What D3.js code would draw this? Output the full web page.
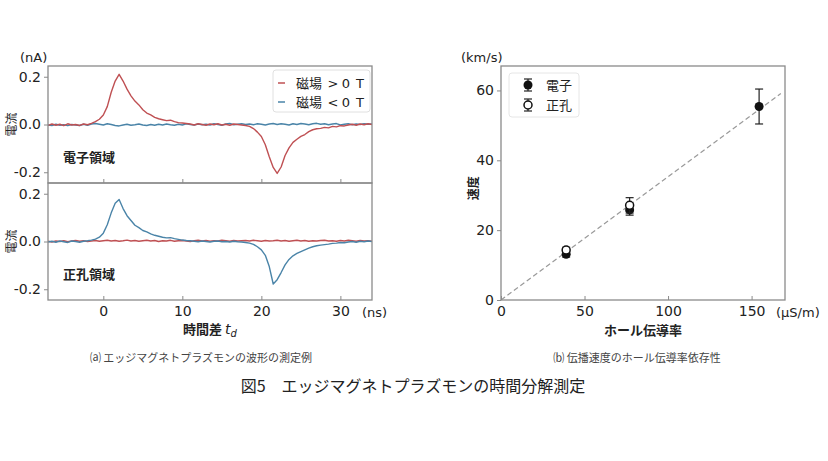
<!DOCTYPE html>
<html>
<head>
<meta charset="utf-8">
<script src="https://cdn.jsdelivr.net/npm/d3@7"></script>
<style>
  body { margin: 0; background: #fff; }
  text { font-family: "DejaVu Sans", "Noto Sans CJK JP", sans-serif; }
  .jp { font-family: "Noto Sans CJK JP", sans-serif; }
</style>
</head>
<body>
<div id="chart"></div>
<script>
// sampling times of the waveforms (ns)
const timeNs = [
  -7, -6.5, -6, -5.5, -5, -4.5, -4, -3.5, -3, -2.5,
  -2, -1.5, -1, -0.5, 0, 0.5, 1, 1.5, 2, 2.5,
  3, 3.5, 4, 4.5, 5, 5.5, 6, 6.5, 7, 7.5,
  8, 8.5, 9, 9.5, 10, 10.5, 11, 11.5, 12, 12.5,
  13, 13.5, 14, 14.5, 15, 15.5, 16, 16.5, 17, 17.5,
  18, 18.5, 19, 19.5, 20, 20.5, 21, 21.5, 22, 22.5,
  23, 23.5, 24, 24.5, 25, 25.5, 26, 26.5, 27, 27.5,
  28, 28.5, 29, 29.5, 30, 30.5, 31, 31.5, 32, 32.5,
  33, 33.5, 34
];

// electron region, B > 0 (nA)
const electronPos = [
  -0.004, 0.002, -0.003, 0.001, -0.005, 0.003, -0.002, 0.000, -0.004, 0.002,
  -0.001, 0.005, 0.012, 0.022, 0.040, 0.075, 0.135, 0.182, 0.210, 0.182,
  0.148, 0.120, 0.098, 0.082, 0.062, 0.048, 0.040, 0.030, 0.024, 0.020,
  0.016, 0.018, 0.012, 0.008, 0.006, 0.004, 0.002, -0.002, 0.003, 0.000,
  -0.003, 0.002, -0.001, 0.003, -0.002, 0.001, -0.003, 0.002, 0.000, -0.002,
  -0.004, -0.008, -0.017, -0.032, -0.050, -0.085, -0.135, -0.180, -0.205, -0.178,
  -0.130, -0.098, -0.075, -0.062, -0.050, -0.042, -0.030, -0.022, -0.018, -0.016,
  -0.012, -0.014, -0.008, -0.010, -0.005, -0.006, -0.002, 0.001, -0.003, 0.002,
  -0.001, 0.003, 0.000
];

// electron region, B < 0
const electronNeg = [
  -0.002, -0.004, 0.001, -0.003, -0.001, -0.005, 0.000, -0.002, -0.004, 0.001,
  -0.003, 0.002, 0.004, 0.001, -0.002, 0.003, 0.000, -0.004, -0.006, -0.002,
  0.001, -0.003, -0.001, 0.002, -0.002, -0.004, 0.000, -0.003, 0.001, -0.002,
  0.002, -0.001, -0.003, 0.001, -0.002, 0.003, 0.000, -0.002, 0.002, -0.001,
  0.001, -0.002, 0.003, 0.000, -0.003, 0.002, 0.004, -0.001, 0.001, 0.003,
  0.000, 0.002, -0.001, 0.003, 0.001, -0.002, 0.002, 0.004, 0.000, 0.003,
  0.001, -0.002, 0.003, 0.000, 0.004, 0.002, -0.001, 0.003, 0.005, 0.001,
  0.003, -0.001, 0.002, 0.004, -0.002, 0.001, 0.003, -0.001, 0.002, 0.000,
  0.003, 0.001, 0.002
];

// hole region, B > 0
const holePos = [
  0.001, -0.002, 0.002, 0.000, 0.003, -0.001, 0.002, 0.004, 0.001, 0.003,
  0.000, 0.002, 0.004, 0.001, 0.003, 0.005, 0.002, 0.004, 0.001, 0.003,
  0.006, 0.002, 0.004, 0.001, 0.003, 0.005, 0.002, 0.004, 0.000, 0.003,
  0.002, 0.005, 0.001, 0.003, 0.004, 0.002, 0.000, 0.003, 0.005, 0.002,
  0.004, 0.001, 0.003, 0.002, 0.005, 0.003, 0.001, 0.004, 0.002, 0.003,
  0.004, 0.002, 0.005, 0.003, 0.001, 0.004, 0.002, 0.003, 0.005, 0.002,
  0.004, 0.001, 0.003, 0.005, 0.002, 0.004, 0.001, 0.003, 0.002, 0.004,
  0.005, 0.002, 0.003, 0.001, 0.004, 0.002, 0.005, 0.003, 0.001, 0.004,
  0.002, 0.003, 0.001
];

// hole region, B < 0
const holeNeg = [
  -0.002, 0.001, -0.003, 0.002, -0.001, -0.004, 0.002, 0.000, -0.003, 0.001,
  0.003, 0.006, 0.010, 0.018, 0.035, 0.070, 0.120, 0.160, 0.176, 0.138,
  0.108, 0.088, 0.068, 0.058, 0.046, 0.040, 0.032, 0.026, 0.022, 0.018,
  0.015, 0.016, 0.012, 0.009, 0.006, 0.004, 0.003, 0.001, -0.001, 0.002,
  0.000, -0.002, 0.001, 0.002, -0.001, 0.000, -0.002, 0.001, -0.001, -0.002,
  -0.004, -0.007, -0.012, -0.022, -0.035, -0.058, -0.105, -0.178, -0.160, -0.130,
  -0.098, -0.075, -0.060, -0.050, -0.042, -0.035, -0.028, -0.022, -0.018, -0.015,
  -0.013, -0.011, -0.008, -0.007, -0.004, -0.005, -0.002, 0.000, -0.003, 0.001,
  -0.001, 0.002, 0.000
];

const waveTicksX = [0, 10, 20, 30];
const waveTicksY = [-0.2, 0.0, 0.2];

// panel (b): velocity vs Hall conductivity
const electronSigma = [39, 77, 154.5];
const electronVel = [13.1, 25.8, 55.4];
const electronErr = [0.8, 1.5, 5.0];
const holeSigma = [39, 77];
const holeVel = [14.3, 27.1];
const holeErr = [0.8, 2.2];
const fitLine = [[0, 0], [167.5, 59.1]];
const velTicksX = [0, 50, 100, 150];
const velTicksY = [0, 20, 40, 60];

const red = "#bf5053";
const blue = "#4a84a8";
const frameColor = "#8a8a8a";

const svg = d3.select("#chart").append("svg")
  .attr("width", 828).attr("height", 461)
  .style("background", "#fff");

const xWave = d3.scaleLinear().domain([-7, 34]).range([48, 372]);

function drawWavePanel(y, series, ticksLabelled, regionLabel, id) {
  const g = svg.append("g");
  const [y0, y1] = y.range();

  g.append("clipPath").attr("id", id)
    .append("rect")
    .attr("x", 48).attr("y", y1).attr("width", 324).attr("height", y0 - y1);

  const line = d3.line()
    .x((d, i) => xWave(timeNs[i]))
    .y(d => y(d));

  series.forEach(s => {
    g.append("path")
      .datum(s.values)
      .attr("clip-path", `url(#${id})`)
      .attr("fill", "none")
      .attr("stroke", s.color)
      .attr("stroke-width", 1.4)
      .attr("stroke-linejoin", "round")
      .attr("d", line);
  });

  // y axis, ticks outward
  const yAxis = d3.axisLeft(y).tickValues(waveTicksY).tickSize(4).tickPadding(3)
    .tickFormat(d => d.toFixed(1));
  const ya = g.append("g").attr("transform", "translate(48,0)").call(yAxis);
  ya.select(".domain").remove();
  ya.selectAll("line").attr("stroke", frameColor);
  ya.selectAll("text").attr("font-size", 14).attr("fill", "#222")
    .style("font-family", "DejaVu Sans");

  // x ticks, inward
  const xAxis = d3.axisBottom(xWave).tickValues(waveTicksX).tickSizeInner(-4).tickPadding(6);
  const xa = g.append("g").attr("transform", `translate(0,${y0})`).call(xAxis);
  xa.select(".domain").remove();
  xa.selectAll("line").attr("stroke", frameColor);
  xa.selectAll("text").attr("font-size", 14).attr("fill", "#222")
    .style("font-family", "DejaVu Sans")
    .attr("opacity", ticksLabelled ? 1 : 0);

  // frame
  g.append("rect")
    .attr("x", 48).attr("y", y1).attr("width", 324).attr("height", y0 - y1)
    .attr("fill", "none").attr("stroke", frameColor).attr("stroke-width", 1.3);

  g.append("text").attr("class", "jp")
    .attr("x", 63).attr("y", y(-0.155))
    .attr("font-size", 13).attr("font-weight", "bold").attr("fill", "#222")
    .text(regionLabel);

  g.append("text").attr("class", "jp")
    .attr("transform", `translate(16,${y(0)}) rotate(-90)`)
    .attr("text-anchor", "middle").attr("font-size", 12).attr("fill", "#222")
    .text("電流");
}

const yTop = d3.scaleLinear().domain([-0.245, 0.245]).range([183, 66]);
const yBot = d3.scaleLinear().domain([-0.245, 0.245]).range([300, 183]);

drawWavePanel(yTop, [
  { values: electronNeg, color: blue },
  { values: electronPos, color: red }
], false, "電子領域", "clipTop");

drawWavePanel(yBot, [
  { values: holePos, color: red },
  { values: holeNeg, color: blue }
], true, "正孔領域", "clipBot");

// units and x label for panel (a)
svg.append("text").attr("x", 20).attr("y", 62)
  .attr("font-size", 13).attr("fill", "#222").text("(nA)");
svg.append("text").attr("x", 362).attr("y", 317)
  .attr("font-size", 13).attr("fill", "#222").text("(ns)");
const xl = svg.append("text").attr("x", 210).attr("y", 334)
  .attr("text-anchor", "middle").attr("fill", "#222");
xl.append("tspan").attr("class", "jp").attr("font-size", 13).attr("font-weight", "bold").text("時間差 ");
xl.append("tspan").attr("font-size", 14).attr("font-style", "italic")
  .style("font-family", "DejaVu Sans").text("t");
xl.append("tspan").attr("font-size", 10).attr("font-style", "italic").attr("dy", 3)
  .style("font-family", "DejaVu Sans").text("d");

// legend (a)
const legA = svg.append("g");
legA.append("rect").attr("x", 273).attr("y", 70).attr("width", 97).attr("height", 42)
  .attr("rx", 3).attr("fill", "#fff").attr("fill-opacity", 0.85)
  .attr("stroke", "#e0e0e0");
[["<", ">", red], ["<", "<", blue]].forEach((d, i) => {
  const yy = 83 + i * 19;
  legA.append("line").attr("x1", 278).attr("x2", 285).attr("y1", yy).attr("y2", yy)
    .attr("stroke", d[2]).attr("stroke-width", 1.5);
  const t = legA.append("g").attr("fill", "#222").attr("font-size", 13);
  t.append("text").attr("class", "jp").attr("x", 296).attr("y", yy + 5).text("磁場");
  t.append("text").attr("x", 333).attr("y", yy + 5).attr("text-anchor", "middle").text(d[1]);
  t.append("text").attr("x", 346).attr("y", yy + 5).attr("text-anchor", "middle").text("0");
  t.append("text").attr("x", 360).attr("y", yy + 5).attr("text-anchor", "middle").text("T");
});

// ---- panel (b) ----
const xVel = d3.scaleLinear().domain([0, 170]).range([501, 785]);
const yVel = d3.scaleLinear().domain([0, 67]).range([300, 66]);
const gb = svg.append("g");

gb.append("path")
  .datum(fitLine)
  .attr("fill", "none").attr("stroke", "#9a9a9a").attr("stroke-width", 1.2)
  .attr("stroke-dasharray", "5,3")
  .attr("d", d3.line().x(d => xVel(d[0])).y(d => yVel(d[1])));

const ybAxis = gb.append("g").attr("transform", "translate(501,0)")
  .call(d3.axisLeft(yVel).tickValues(velTicksY).tickSize(4).tickPadding(3));
ybAxis.select(".domain").remove();
ybAxis.selectAll("line").attr("stroke", frameColor);
ybAxis.selectAll("text").attr("font-size", 14).attr("fill", "#222").style("font-family", "DejaVu Sans");

const xbAxis = gb.append("g").attr("transform", "translate(0,300)")
  .call(d3.axisBottom(xVel).tickValues(velTicksX).tickSizeInner(-4).tickPadding(6));
xbAxis.select(".domain").remove();
xbAxis.selectAll("line").attr("stroke", frameColor);
xbAxis.selectAll("text").attr("font-size", 14).attr("fill", "#222").style("font-family", "DejaVu Sans");

gb.append("rect").attr("x", 501).attr("y", 66).attr("width", 284).attr("height", 234)
  .attr("fill", "none").attr("stroke", frameColor).attr("stroke-width", 1.3);

function errorBar(g, cx, cy, top, bottom) {
  g.append("line").attr("x1", cx).attr("x2", cx).attr("y1", top).attr("y2", bottom)
    .attr("stroke", "#222").attr("stroke-width", 1.2);
  [top, bottom].forEach(v => g.append("line")
    .attr("x1", cx - 4).attr("x2", cx + 4).attr("y1", v).attr("y2", v)
    .attr("stroke", "#222").attr("stroke-width", 1.2));
}

electronSigma.forEach((s, i) => {
  errorBar(gb, xVel(s), yVel(electronVel[i]),
    yVel(electronVel[i] + electronErr[i]), yVel(electronVel[i] - electronErr[i]));
});
gb.selectAll("circle.el").data(electronSigma).join("circle")
  .attr("class", "el")
  .attr("cx", d => xVel(d)).attr("cy", (d, i) => yVel(electronVel[i]))
  .attr("r", 4.5).attr("fill", "#111");

holeSigma.forEach((s, i) => {
  errorBar(gb, xVel(s), yVel(holeVel[i]),
    yVel(holeVel[i] + holeErr[i]), yVel(holeVel[i] - holeErr[i]));
});
gb.selectAll("circle.ho").data(holeSigma).join("circle")
  .attr("class", "ho")
  .attr("cx", d => xVel(d)).attr("cy", (d, i) => yVel(holeVel[i]))
  .attr("r", 4).attr("fill", "#fff").attr("stroke", "#111").attr("stroke-width", 1.5);

// legend (b)
const legB = svg.append("g");
legB.append("rect").attr("x", 509).attr("y", 73).attr("width", 70).attr("height", 44)
  .attr("rx", 3).attr("fill", "#fff").attr("stroke", "#e6e6e6");
["電子", "正孔"].forEach((label, i) => {
  const yy = 85 + i * 20;
  errorBar(legB, 528, yy, yy - 6, yy + 6);
  legB.append("circle").attr("cx", 528).attr("cy", yy).attr("r", i ? 4 : 4.5)
    .attr("fill", i ? "#fff" : "#111").attr("stroke", "#111").attr("stroke-width", i ? 1.5 : 0);
  legB.append("text").attr("class", "jp").attr("x", 546).attr("y", yy + 5)
    .attr("font-size", 13).attr("fill", "#222").text(label);
});

svg.append("text").attr("x", 461).attr("y", 62)
  .attr("font-size", 13).attr("fill", "#222").text("(km/s)");
svg.append("text").attr("x", 776).attr("y", 317)
  .attr("font-size", 13).attr("fill", "#222").text("(μS/m)");
svg.append("text").attr("class", "jp")
  .attr("transform", `translate(478,${yVel(32)}) rotate(-90)`)
  .attr("text-anchor", "middle").attr("font-size", 12).attr("font-weight", "bold")
  .attr("fill", "#222").text("速度");
svg.append("text").attr("class", "jp").attr("x", 643).attr("y", 335)
  .attr("text-anchor", "middle").attr("font-size", 13).attr("font-weight", "bold")
  .attr("fill", "#222").text("ホール伝導率");

// captions
svg.append("text").attr("class", "jp").attr("x", 201).attr("y", 362)
  .attr("text-anchor", "middle").attr("font-size", 11).attr("fill", "#444")
  .text("⒜  エッジマグネトプラズモンの波形の測定例");
svg.append("text").attr("class", "jp").attr("x", 637).attr("y", 362)
  .attr("text-anchor", "middle").attr("font-size", 11).attr("fill", "#444")
  .text("⒝  伝播速度のホール伝導率依存性");
svg.append("text").attr("class", "jp").attr("x", 413).attr("y", 392)
  .attr("text-anchor", "middle").attr("font-size", 16).attr("fill", "#222")
  .text("図5　エッジマグネトプラズモンの時間分解測定");
</script>
</body>
</html>
